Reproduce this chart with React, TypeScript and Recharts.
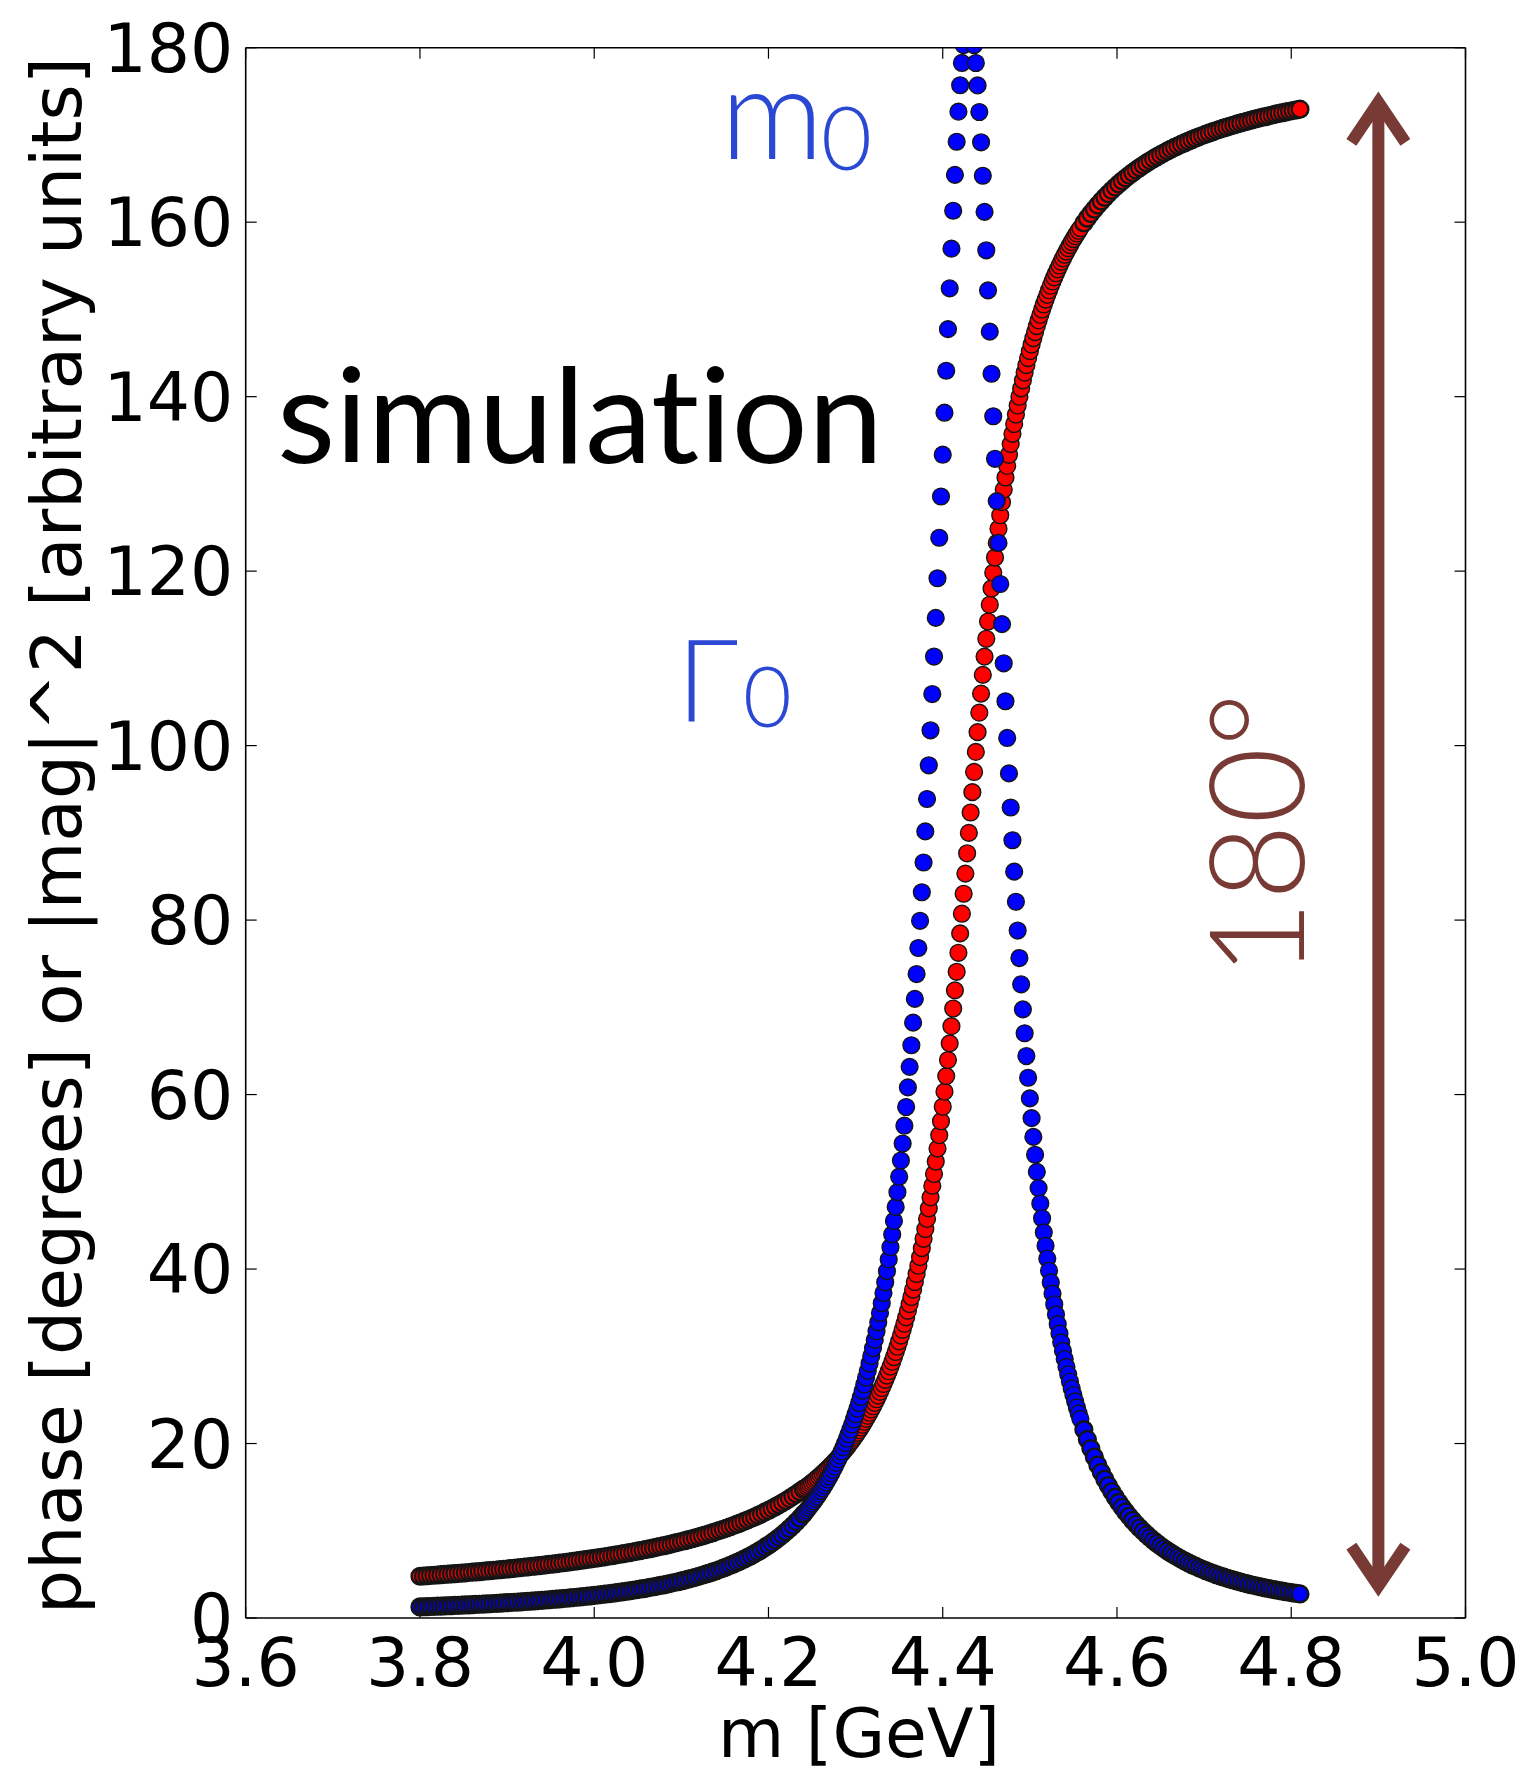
import React from 'react';
import { ScatterChart, Scatter, XAxis, YAxis, ReferenceLine, ReferenceDot } from 'recharts';

// x-axis / y-axis ticks
const xTicks = [3.6, 3.8, 4.0, 4.2, 4.4, 4.6, 4.8, 5.0];
const yTicks = [0, 20, 40, 60, 80, 100, 120, 140, 160, 180];

// mass samples [GeV] — low-mass tail
const massLow = [3.800,3.804,3.808,3.812,3.816,3.820,3.824,3.828,3.832,3.836,3.840,3.844,3.848,3.852,3.856,3.860,3.864,3.868,3.872,3.876,3.880,3.884,3.888,3.892,3.896,3.900,3.904,3.908,3.912,3.916,3.920,3.924,3.928,3.932,3.936,3.940,3.944,3.948,3.952,3.956,3.960,3.964,3.968,3.972,3.976,3.980,3.984,3.988,3.992,3.996,4.000,4.004,4.008,4.012,4.016,4.020,4.024,4.028,4.032,4.036,4.040,4.044,4.048,4.052,4.056,4.060,4.064,4.068,4.072,4.076,4.080,4.084,4.088,4.092,4.096,4.100,4.104,4.108,4.112,4.116,4.120,4.124,4.128,4.132,4.136,4.140,4.144,4.148,4.152,4.156,4.160,4.164,4.168,4.172,4.176,4.180,4.184,4.188,4.192,4.196,4.200,4.204,4.208,4.212,4.216,4.220,4.224,4.228,4.232,4.236,4.240];
// mass samples [GeV] — resonance region
const massMid = [4.242,4.244,4.246,4.248,4.250,4.252,4.254,4.256,4.258,4.260,4.262,4.264,4.266,4.268,4.270,4.272,4.274,4.276,4.278,4.280,4.282,4.284,4.286,4.288,4.290,4.292,4.294,4.296,4.298,4.300,4.302,4.304,4.306,4.308,4.310,4.312,4.314,4.316,4.318,4.320,4.322,4.324,4.326,4.328,4.330,4.332,4.334,4.336,4.338,4.340,4.342,4.344,4.346,4.348,4.350,4.352,4.354,4.356,4.358,4.360,4.362,4.364,4.366,4.368,4.370,4.372,4.374,4.376,4.378,4.380,4.382,4.384,4.386,4.388,4.390,4.392,4.394,4.396,4.398,4.400,4.402,4.404,4.406,4.408,4.410,4.412,4.414,4.416,4.418,4.420,4.422,4.424,4.426,4.428,4.430,4.432,4.434,4.436,4.438,4.440,4.442,4.444,4.446,4.448,4.450,4.452,4.454,4.456,4.458,4.460,4.462,4.464,4.466,4.468,4.470,4.472,4.474,4.476,4.478,4.480,4.482,4.484,4.486,4.488,4.490,4.492,4.494,4.496,4.498,4.500,4.502,4.504,4.506,4.508,4.510,4.512,4.514,4.516,4.518,4.520,4.522,4.524,4.526,4.528,4.530,4.532,4.534,4.536,4.538,4.540,4.542,4.544,4.546,4.548,4.550,4.552,4.554,4.556,4.558];
// mass samples [GeV] — high-mass tail
const massHigh = [4.562,4.566,4.570,4.574,4.578,4.582,4.586,4.590,4.594,4.598,4.602,4.606,4.610,4.614,4.618,4.622,4.626,4.630,4.634,4.638,4.642,4.646,4.650,4.654,4.658,4.662,4.666,4.670,4.674,4.678,4.682,4.686,4.690,4.694,4.698,4.702,4.706,4.710,4.714,4.718,4.722,4.726,4.730,4.734,4.738,4.742,4.746,4.750,4.754,4.758,4.762,4.766,4.770,4.774,4.778,4.782,4.786,4.790,4.794,4.798,4.802,4.806,4.810];

// |mag|^2 (blue)
const magLow = [1.274,1.290,1.305,1.321,1.336,1.352,1.369,1.386,1.403,1.420,1.437,1.456,1.475,1.494,1.513,1.532,1.553,1.574,1.595,1.615,1.636,1.660,1.683,1.706,1.730,1.753,1.779,1.805,1.830,1.856,1.882,1.911,1.940,1.970,1.999,2.028,2.061,2.093,2.126,2.159,2.192,2.229,2.266,2.303,2.340,2.377,2.419,2.461,2.503,2.545,2.588,2.636,2.684,2.733,2.781,2.829,2.885,2.940,2.996,3.052,3.107,3.172,3.236,3.301,3.365,3.430,3.505,3.580,3.656,3.731,3.807,3.891,3.978,4.067,4.158,4.252,4.350,4.452,4.558,4.668,4.781,4.898,5.021,5.148,5.281,5.419,5.561,5.711,5.866,6.027,6.195,6.370,6.553,6.745,6.945,7.153,7.370,7.600,7.840,8.091,8.355,8.630,8.920,9.227,9.550,9.888,10.242,10.619,11.018,11.440,11.885];
const magMid = [12.117,12.356,12.602,12.856,13.117,13.386,13.663,13.949,14.244,14.548,14.862,15.186,15.520,15.866,16.223,16.591,16.973,17.367,17.775,18.197,18.634,19.087,19.556,20.041,20.545,21.067,21.609,22.171,22.754,23.361,23.990,24.645,25.325,26.033,26.770,27.536,28.334,29.166,30.033,30.937,31.880,32.864,33.891,34.963,36.084,37.255,38.480,39.761,41.101,42.504,43.973,45.512,47.124,48.814,50.585,52.442,54.389,56.432,58.575,60.822,63.179,65.653,68.246,70.965,73.814,76.798,79.921,83.189,86.603,90.165,93.878,97.745,101.757,105.913,110.210,114.637,119.182,123.828,128.557,133.345,138.161,142.972,147.740,152.419,156.961,161.312,165.419,169.222,172.666,175.693,178.253,180.297,181.787,182.694,183.000,182.697,181.790,180.298,178.246,175.674,172.627,169.158,165.321,161.175,156.777,152.186,147.452,142.627,137.755,132.876,128.026,123.233,118.525,113.922,109.437,105.087,100.877,96.816,92.908,89.151,85.550,82.101,78.801,75.649,72.638,69.766,67.027,64.417,61.929,59.558,57.299,55.148,53.097,51.144,49.283,47.509,45.818,44.206,42.668,41.201,39.800,38.464,37.187,35.967,34.801,33.686,32.620,31.599,30.623,29.687,28.791,27.932,27.108,26.318,25.560,24.832,24.133,23.461,22.816];
const magHigh = [21.593,20.465,19.420,18.450,17.545,16.703,15.919,15.186,14.500,13.858,13.257,12.692,12.161,11.661,11.191,10.748,10.330,9.935,9.561,9.207,8.873,8.555,8.254,7.968,7.696,7.437,7.191,6.956,6.733,6.519,6.316,6.121,5.936,5.758,5.588,5.425,5.269,5.119,4.976,4.838,4.705,4.579,4.456,4.339,4.226,4.117,4.012,3.912,3.814,3.721,3.630,3.543,3.459,3.377,3.298,3.222,3.149,3.078,3.009,2.943,2.878,2.816,2.755];

// phase [degrees] (red)
const phaseLow = [4.786,4.815,4.844,4.873,4.902,4.931,4.961,4.992,5.023,5.054,5.085,5.117,5.150,5.183,5.216,5.249,5.285,5.320,5.355,5.391,5.426,5.464,5.502,5.540,5.578,5.616,5.657,5.698,5.739,5.780,5.821,5.865,5.910,5.954,5.998,6.043,6.091,6.139,6.187,6.235,6.283,6.335,6.387,6.440,6.492,6.544,6.601,6.658,6.715,6.772,6.830,6.892,6.955,7.017,7.080,7.143,7.211,7.280,7.349,7.418,7.487,7.563,7.639,7.716,7.792,7.869,7.953,8.038,8.123,8.208,8.293,8.384,8.477,8.572,8.669,8.768,8.871,8.975,9.082,9.192,9.302,9.418,9.537,9.658,9.782,9.909,10.042,10.176,10.315,10.458,10.602,10.754,10.910,11.070,11.235,11.403,11.580,11.763,11.950,12.141,12.338,12.547,12.762,12.982,13.209,13.442,13.691,13.948,14.213,14.484,14.764];
const phaseMid = [14.912,15.062,15.214,15.370,15.529,15.691,15.857,16.027,16.200,16.377,16.557,16.742,16.930,17.124,17.323,17.524,17.731,17.943,18.159,18.381,18.609,18.842,19.080,19.325,19.577,19.834,20.098,20.369,20.648,20.934,21.228,21.529,21.839,22.158,22.487,22.824,23.172,23.530,23.898,24.278,24.669,25.073,25.489,25.919,26.363,26.821,27.294,27.783,28.289,28.812,29.353,29.914,30.494,31.096,31.719,32.366,33.036,33.732,34.455,35.205,35.985,36.796,37.639,38.516,39.427,40.377,41.365,42.395,43.466,44.582,45.745,46.957,48.218,49.531,50.900,52.323,53.805,55.345,56.946,58.607,60.331,62.116,63.963,65.871,67.838,69.864,71.944,74.075,76.253,78.474,80.731,83.019,85.331,87.658,89.995,92.332,94.664,96.980,99.275,101.542,103.774,105.964,108.108,110.203,112.243,114.227,116.149,118.015,119.818,121.558,123.236,124.854,126.411,127.908,129.347,130.731,132.059,133.335,134.560,135.736,136.864,137.948,138.989,139.988,140.948,141.870,142.757,143.609,144.428,145.216,145.975,146.705,147.408,148.085,148.738,149.368,149.975,150.561,151.127,151.674,152.202,152.712,153.206,153.684,154.146,154.593,155.027,155.447,155.854,156.248,156.632,157.003,157.364,157.714,158.054,158.385,158.707,159.019,159.323];
const phaseHigh = [159.910,160.464,160.987,161.487,161.963,162.415,162.846,163.258,163.651,164.027,164.387,164.731,165.062,165.379,165.683,165.975,166.256,166.527,166.787,167.038,167.280,167.513,167.739,167.956,168.167,168.370,168.567,168.757,168.942,169.121,169.294,169.462,169.625,169.783,169.937,170.086,170.231,170.372,170.509,170.643,170.773,170.899,171.023,171.142,171.260,171.373,171.485,171.593,171.699,171.802,171.903,172.002,172.098,172.192,172.285,172.375,172.462,172.548,172.633,172.715,172.796,172.874,172.952];

// annotation arrow (x position and span, in data units)
const arrowX = 4.9;
const arrowSpan = [2.4, 175];

const zip = (xs: number[], ys: number[]) => xs.map((m, i) => ({ m, v: ys[i] }));
const phaseLowData = zip(massLow, phaseLow);
const phaseMidData = zip(massMid, phaseMid);
const phaseHighData = zip(massHigh, phaseHigh);
const magLowData = zip(massLow, magLow);
const magMidData = zip(massMid, magMid);
const magHighData = zip(massHigh, magHigh);

const BROWN = '#773a34';
const TXTBLUE = '#2a48d4';
const AXFONT = 'DejaVu Sans, sans-serif';
const ANNFONT = 'Lato, sans-serif';

const makeDot = (fill: string, sw: number) => (props: any) => {
  const { cx, cy } = props;
  if (cx == null || cy == null) return <g />;
  return <circle cx={cx} cy={cy} r={8.4} fill={fill} stroke="#141414" strokeWidth={sw} />;
};

const ArrowShape = (props: any) => {
  const { x1, y1, x2, y2 } = props;
  const x = (x1 + x2) / 2;
  const top = Math.min(y1, y2);
  const bot = Math.max(y1, y2);
  const w = 12;
  return (
    <g>
      <line x1={x} y1={top + 10} x2={x} y2={bot - 10} stroke={BROWN} strokeWidth={w} />
      <polyline points={`${x - 27},${top + 51} ${x},${top + 11} ${x + 27},${top + 51}`} fill="none" stroke={BROWN} strokeWidth={w} strokeLinejoin="miter" strokeMiterlimit={10} />
      <polyline points={`${x - 27},${bot - 51} ${x},${bot - 11} ${x + 27},${bot - 51}`} fill="none" stroke={BROWN} strokeWidth={w} strokeLinejoin="miter" strokeMiterlimit={10} />
    </g>
  );
};

const TopTick = (p: any) => <line x1={p.cx} y1={p.cy} x2={p.cx} y2={p.cy + 11} stroke="#000" strokeWidth={1.2} />;
const RightTick = (p: any) => <line x1={p.cx} y1={p.cy} x2={p.cx - 11} y2={p.cy} stroke="#000" strokeWidth={1.2} />;

export default function App() {
  const W = 1511;
  const H = 1765;
  const TAIL = 2.4;
  const MID = 1.4;
  return (
    <div style={{ position: 'relative', width: W, height: H }}>
      <ScatterChart width={W} height={H} margin={{ top: 39.7, right: 53.5, bottom: 35, left: 37.7 }}>
        <XAxis
          xAxisId="b"
          dataKey="m"
          type="number"
          domain={[3.6, 5.0]}
          ticks={xTicks}
          interval={0}
          allowDataOverflow
          tickFormatter={(v: number) => v.toFixed(1)}
          tickSize={-11}
          tickMargin={31}
          height={120}
          axisLine={{ stroke: '#000', strokeWidth: 1.6 }}
          tickLine={{ stroke: '#000', strokeWidth: 1.2 }}
          tick={{ fill: '#000', fontSize: 68, fontFamily: AXFONT }}
        />
        <YAxis
          yAxisId="l"
          dataKey="v"
          type="number"
          domain={[0, 180]}
          ticks={yTicks}
          interval={0}
          allowDataOverflow
          tickSize={-11}
          tickMargin={23.4}
          width={200}
          axisLine={{ stroke: '#000', strokeWidth: 1.6 }}
          tickLine={{ stroke: '#000', strokeWidth: 1.2 }}
          tick={{ fill: '#000', fontSize: 68, fontFamily: AXFONT }}
        />
        <ReferenceLine xAxisId="b" yAxisId="l" y={180} stroke="#000" strokeWidth={1.6} ifOverflow="visible" />
        <ReferenceLine xAxisId="b" yAxisId="l" x={5.0} stroke="#000" strokeWidth={1.6} ifOverflow="visible" />
        {xTicks.map((t) => (
          <ReferenceDot key={`tt${t}`} xAxisId="b" yAxisId="l" x={t} y={180} ifOverflow="visible" shape={TopTick} />
        ))}
        {yTicks.map((t) => (
          <ReferenceDot key={`rt${t}`} xAxisId="b" yAxisId="l" x={5.0} y={t} ifOverflow="visible" shape={RightTick} />
        ))}
        <Scatter data={phaseLowData} xAxisId="b" yAxisId="l" dataKey="v" shape={makeDot('#ff0000', TAIL)} isAnimationActive={false} />
        <Scatter data={phaseMidData} xAxisId="b" yAxisId="l" dataKey="v" shape={makeDot('#ff0000', MID)} isAnimationActive={false} />
        <Scatter data={phaseHighData} xAxisId="b" yAxisId="l" dataKey="v" shape={makeDot('#ff0000', TAIL)} isAnimationActive={false} />
        <Scatter data={magLowData} xAxisId="b" yAxisId="l" dataKey="v" shape={makeDot('#0000ff', TAIL)} isAnimationActive={false} />
        <Scatter data={magMidData} xAxisId="b" yAxisId="l" dataKey="v" shape={makeDot('#0000ff', MID)} isAnimationActive={false} />
        <Scatter data={magHighData} xAxisId="b" yAxisId="l" dataKey="v" shape={makeDot('#0000ff', TAIL)} isAnimationActive={false} />
        <ReferenceLine
          xAxisId="b"
          yAxisId="l"
          segment={[{ x: arrowX, y: arrowSpan[0] }, { x: arrowX, y: arrowSpan[1] }]}
          shape={ArrowShape}
          ifOverflow="visible"
        />
      </ScatterChart>
      <svg width={W} height={H} style={{ position: 'absolute', left: 0, top: 0, pointerEvents: 'none' }}>
        <text x={72.5} y={827.5} transform="rotate(-90 72.5 827.5)" textAnchor="middle" fontFamily={AXFONT} fontSize={69.5} fill="#000">
          phase [degrees] or |mag|^2 [arbitrary units]
        </text>
        <text x={851} y={1748.7} textAnchor="middle" fontFamily={AXFONT} fontSize={68} fill="#000">
          m [GeV]
        </text>
        <text x={269} y={454.7} fontFamily={ANNFONT} fontWeight={400} fontSize={132} fill="#000" textLength={606} lengthAdjust="spacingAndGlyphs" style={{ fontVariantLigatures: 'none' }}>
          simulation
        </text>
        <text x={712.6} y={150.5} fontFamily={ANNFONT} fontWeight={300} fontSize={128} fill={TXTBLUE}>m</text>
        <text x={813} y={162} fontFamily={ANNFONT} fontWeight={300} fontSize={88} fill={TXTBLUE}>0</text>
        <text x={668.7} y={712.5} fontFamily={ANNFONT} fontWeight={300} fontSize={114} fill={TXTBLUE}>Γ</text>
        <text x={735} y={719} fontFamily={ANNFONT} fontWeight={300} fontSize={84} fill={TXTBLUE}>0</text>
        <text x={0} y={0} transform="translate(1296 969) rotate(-90)" fontFamily={ANNFONT} fontWeight={300} fontSize={132} fill={BROWN}>
          180°
        </text>
      </svg>
    </div>
  );
}
